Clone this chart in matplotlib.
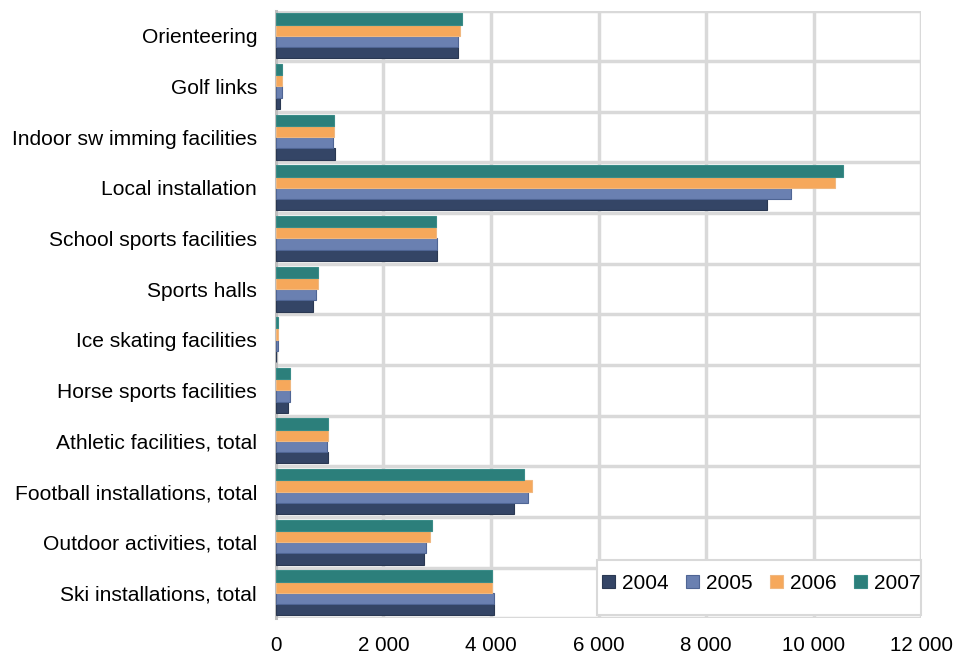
import numpy as np
import matplotlib.pyplot as plt
from matplotlib.patches import Rectangle
from matplotlib.ticker import FuncFormatter

plt.rcParams['font.family'] = ['Liberation Sans', 'DejaVu Sans']

categories = ['Ski installations, total', 'Outdoor activities, total',
              'Football installations, total', 'Athletic facilities, total',
              'Horse sports facilities', 'Ice skating facilities', 'Sports halls',
              'School sports facilities', 'Local installation',
              'Indoor sw imming facilities', 'Golf links', 'Orienteering']
years = ['2004', '2005', '2006', '2007']
v2004 = [4050, 2750, 4420, 970, 220, 0, 700, 3000, 9130, 1110, 75, 3390]
v2005 = [4050, 2790, 4680, 960, 260, 45, 740, 3000, 9580, 1070, 115, 3390]
v2006 = [4010, 2860, 4760, 970, 265, 35, 785, 2970, 10400, 1080, 115, 3420]
v2007 = [4010, 2900, 4610, 970, 265, 45, 785, 2970, 10540, 1080, 115, 3470]
colors = ['#344566', '#6a80b1', '#f6a85b', '#2c7f7b']
edges = ['#2a3852', '#4f6594', '#f0b880', '#3a8c88']

fig = plt.figure(figsize=(9.71, 6.59), dpi=100)
ax = fig.add_axes([0.284, 0.062, 0.665, 0.922])

y = np.arange(len(categories))
h = 0.222
series = [v2004, v2005, v2006, v2007]
for i, vals in enumerate(series):
    ax.barh(y + (i - 1.5) * h, vals, height=h, color=colors[i],
            edgecolor=edges[i], linewidth=0.8, label=years[i], zorder=3)

ax.set_xlim(0, 12000)
ax.set_ylim(-0.5, len(categories) - 0.5)
ax.set_xticks(np.arange(0, 12001, 2000))
ax.xaxis.set_major_formatter(FuncFormatter(lambda v, p: f'{int(v):,}'.replace(',', ' ')))
ax.set_yticks(y)
ax.set_yticklabels(categories)
ax.set_yticks(np.arange(-0.5, len(categories), 1), minor=True)

grid_c = '#d9d9d9'
ax.grid(axis='x', which='major', color=grid_c, linewidth=2.5, zorder=0)
ax.grid(axis='y', which='minor', color=grid_c, linewidth=2.5, zorder=0)
ax.tick_params(axis='both', which='both', length=0, labelsize=14.8)
ax.tick_params(axis='y', labelsize=15.1, pad=13.5)
ax.tick_params(axis='x', pad=13)
for s in ['top', 'right', 'bottom']:
    ax.spines[s].set_visible(False)
ax.spines['left'].set_color('#bfbfbf')
ax.spines['left'].set_linewidth(2.2)
ax.spines['left'].set_zorder(2)

# legend box drawn separately: Excel pads it unevenly
ax.add_patch(Rectangle((0.497, 0.005), 0.503, 0.0905, transform=ax.transAxes,
                       facecolor='white', edgecolor=grid_c, linewidth=1.5,
                       zorder=5, clip_on=False))
leg = ax.legend(loc='center right', ncol=4, fontsize=15, frameon=False,
                handlelength=0.62, handleheight=0.62, handletextpad=0.32,
                columnspacing=0.85, borderpad=0.0, borderaxespad=0.05,
                bbox_to_anchor=(1.0, 0.057))
leg.set_zorder(6)

fig.savefig('out.png', dpi=100)
